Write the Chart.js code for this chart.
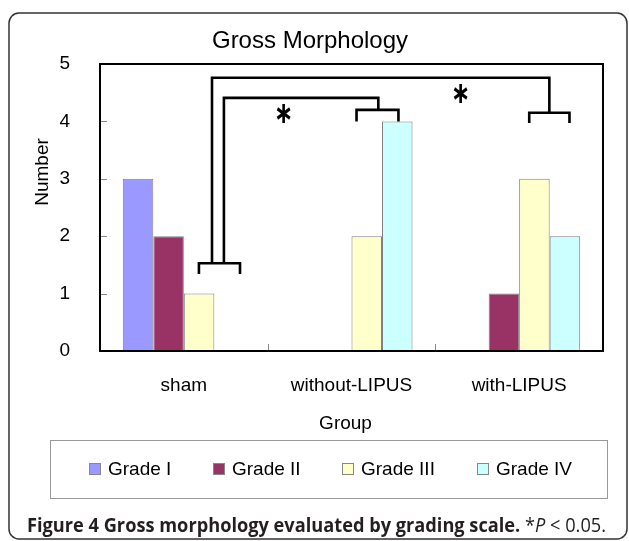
<!DOCTYPE html>
<html>
<head>
<meta charset="utf-8">
<script src="https://cdn.jsdelivr.net/npm/chart.js@4/dist/chart.umd.min.js"></script>
<style>
html,body{margin:0;padding:0;background:#fff;}
#wrap{width:629px;height:541px;position:relative;}
</style>
</head>
<body>
<div id="wrap"><canvas id="c" width="629" height="541"></canvas></div>
<script>
// ---- data ----
const categories = ['sham', 'without-LIPUS', 'with-LIPUS'];
const seriesNames = ['Grade I', 'Grade II', 'Grade III', 'Grade IV'];
const gradeI   = [3, 0, 0];
const gradeII  = [2, 0, 1];
const gradeIII = [1, 2, 3];
const gradeIV  = [0, 4, 2];
const yTicks = [0, 1, 2, 3, 4, 5];
const chartTitle = 'Gross Morphology';
const yTitle = 'Number';
const xTitle = 'Group';

const colors = ['#9999FF', '#993366', '#FFFFCC', '#CCFFFF'];
const FONT = '"Liberation Sans", Arial, sans-serif';

const extras = {
  id: 'extras',
  afterDraw(chart) {
    const ctx = chart.ctx;
    const xs = chart.scales.x, ys = chart.scales.y;
    const X = v => xs.getPixelForValue(v);
    const Y = v => ys.getPixelForValue(v);
    const a = chart.chartArea;
    ctx.save();

    // outer rounded frame
    ctx.strokeStyle = '#333';
    ctx.lineWidth = 1.5;
    ctx.beginPath();
    ctx.roundRect(9, 13, 618, 526, 10);
    ctx.stroke();

    // title
    ctx.fillStyle = '#000';
    ctx.font = '24px ' + FONT;
    ctx.textAlign = 'center';
    ctx.textBaseline = 'alphabetic';
    ctx.fillText(chartTitle, 310, 48);

    // axis titles
    ctx.font = '19px ' + FONT;
    ctx.textBaseline = 'middle';
    ctx.fillText(xTitle, (a.left + a.right) / 2 - 6, 424);
    ctx.save();
    ctx.translate(43, 172);
    ctx.rotate(-Math.PI / 2);
    ctx.fillText(yTitle, 0, 0);
    ctx.restore();

    // inner tick marks
    ctx.strokeStyle = '#888';
    ctx.lineWidth = 1;
    ctx.beginPath();
    yTicks.forEach(t => {
      const y = Math.round(Y(t)) + 0.5;
      ctx.moveTo(a.left, y); ctx.lineTo(a.left + 7, y);
    });
    for (let i = 1; i < categories.length; i++) {
      const x = Math.round((X(i - 1) + X(i)) / 2) + 0.5;
      ctx.moveTo(x, a.bottom); ctx.lineTo(x, a.bottom - 7);
    }
    ctx.stroke();

    // plot border
    ctx.strokeStyle = '#000';
    ctx.lineWidth = 2;
    ctx.strokeRect(a.left, a.top, a.right - a.left, a.bottom - a.top);

    // significance brackets (data coordinates)
    ctx.lineWidth = 2.6;
    ctx.lineJoin = 'miter';
    const path = pts => {
      ctx.beginPath();
      pts.forEach((p, i) => i ? ctx.lineTo(X(p[0]), Y(p[1])) : ctx.moveTo(X(p[0]), Y(p[1])));
      ctx.stroke();
    };
    path([[0.09, 1.34], [0.09, 1.53], [0.335, 1.53], [0.335, 1.34]]);
    path([[0.168, 1.53], [0.168, 4.76], [2.18, 4.76], [2.18, 4.15]]);
    path([[2.06, 3.97], [2.06, 4.15], [2.30, 4.15], [2.30, 3.97]]);
    path([[0.239, 1.53], [0.239, 4.41], [1.16, 4.41], [1.16, 4.2]]);
    path([[1.03, 4.0], [1.03, 4.2], [1.28, 4.2], [1.28, 4.0]]);

    // asterisks (text glyph scaled to 13x18 px box)
    const star = (xv, yv) => {
      ctx.save();
      ctx.font = 'bold 100px "DejaVu Sans", sans-serif';
      ctx.textAlign = 'left';
      ctx.textBaseline = 'alphabetic';
      const g = '\u2217';
      const m = ctx.measureText(g);
      const w = m.actualBoundingBoxLeft + m.actualBoundingBoxRight;
      const h = m.actualBoundingBoxAscent + m.actualBoundingBoxDescent;
      const sx = 14 / w, sy = 19 / h;
      ctx.translate(X(xv), Y(yv));
      ctx.scale(sx, sy);
      ctx.fillStyle = '#000';
      ctx.fillText(g, -(m.actualBoundingBoxRight - m.actualBoundingBoxLeft) / 2, (m.actualBoundingBoxAscent - m.actualBoundingBoxDescent) / 2);
      ctx.restore();
    };
    star(0.594, 4.14);
    star(1.65, 4.48);

    // legend box
    ctx.strokeStyle = '#999';
    ctx.lineWidth = 1;
    ctx.strokeRect(50.5, 440.5, 557, 58);
    const sqX = [89, 213, 342, 477];
    ctx.font = '19px ' + FONT;
    ctx.textAlign = 'left';
    ctx.textBaseline = 'middle';
    seriesNames.forEach((n, i) => {
      ctx.fillStyle = colors[i];
      ctx.fillRect(sqX[i], 463, 12, 12);
      ctx.strokeStyle = '#888';
      ctx.strokeRect(sqX[i] + 0.5, 463.5, 11, 11);
      ctx.fillStyle = '#000';
      ctx.fillText(n, sqX[i] + 19, 469.5);
    });

    // caption
    const parts = [
      ['bold 20px "Open Sans"', 'Figure 4 Gross morphology evaluated by grading scale.'],
      ['20px "Open Sans"', ' *'],
      ['italic 20px "Open Sans"', 'P'],
      ['20px "Open Sans"', ' < 0.05.']
    ];
    let total = 0;
    parts.forEach(p => { ctx.font = p[0]; total += ctx.measureText(p[1]).width; });
    const target = 579;
    ctx.save();
    ctx.translate(27, 532);
    ctx.scale(target / total, 1);
    ctx.fillStyle = '#231f20';
    ctx.textBaseline = 'alphabetic';
    let cx = 0;
    parts.forEach(p => { ctx.font = p[0]; ctx.fillText(p[1], cx, 0); cx += ctx.measureText(p[1]).width; });
    ctx.restore();

    ctx.restore();
  }
};

const datasets = [gradeI, gradeII, gradeIII, gradeIV].map((d, i) => ({
  label: seriesNames[i],
  data: d,
  backgroundColor: colors[i],
  borderColor: '#808080',
  borderWidth: 1,
  borderSkipped: false,
  barPercentage: 1.0,
  categoryPercentage: 0.728
}));

new Chart(document.getElementById('c'), {
  type: 'bar',
  data: { labels: categories, datasets },
  options: {
    responsive: false,
    devicePixelRatio: 1,
    animation: false,
    layout: { padding: { left: 0, top: 64, right: 26, bottom: 0 } },
    plugins: { legend: { display: false }, title: { display: false }, tooltip: { enabled: false } },
    scales: {
      x: {
        grid: { display: false },
        border: { display: false },
        ticks: { color: '#000', font: { family: FONT, size: 19 }, padding: 15, maxRotation: 0, autoSkip: false },
        afterFit(s) { s.height = 190; }
      },
      y: {
        min: 0, max: 5,
        grid: { display: false },
        border: { display: false },
        ticks: { stepSize: 1, color: '#000', font: { family: FONT, size: 19 }, padding: 22,
          callback: (v) => yTicks.includes(v) ? String(v) : '' },
        afterFit(s) { s.width = 100; }
      }
    }
  },
  plugins: [extras]
});
</script>
</body>
</html>
